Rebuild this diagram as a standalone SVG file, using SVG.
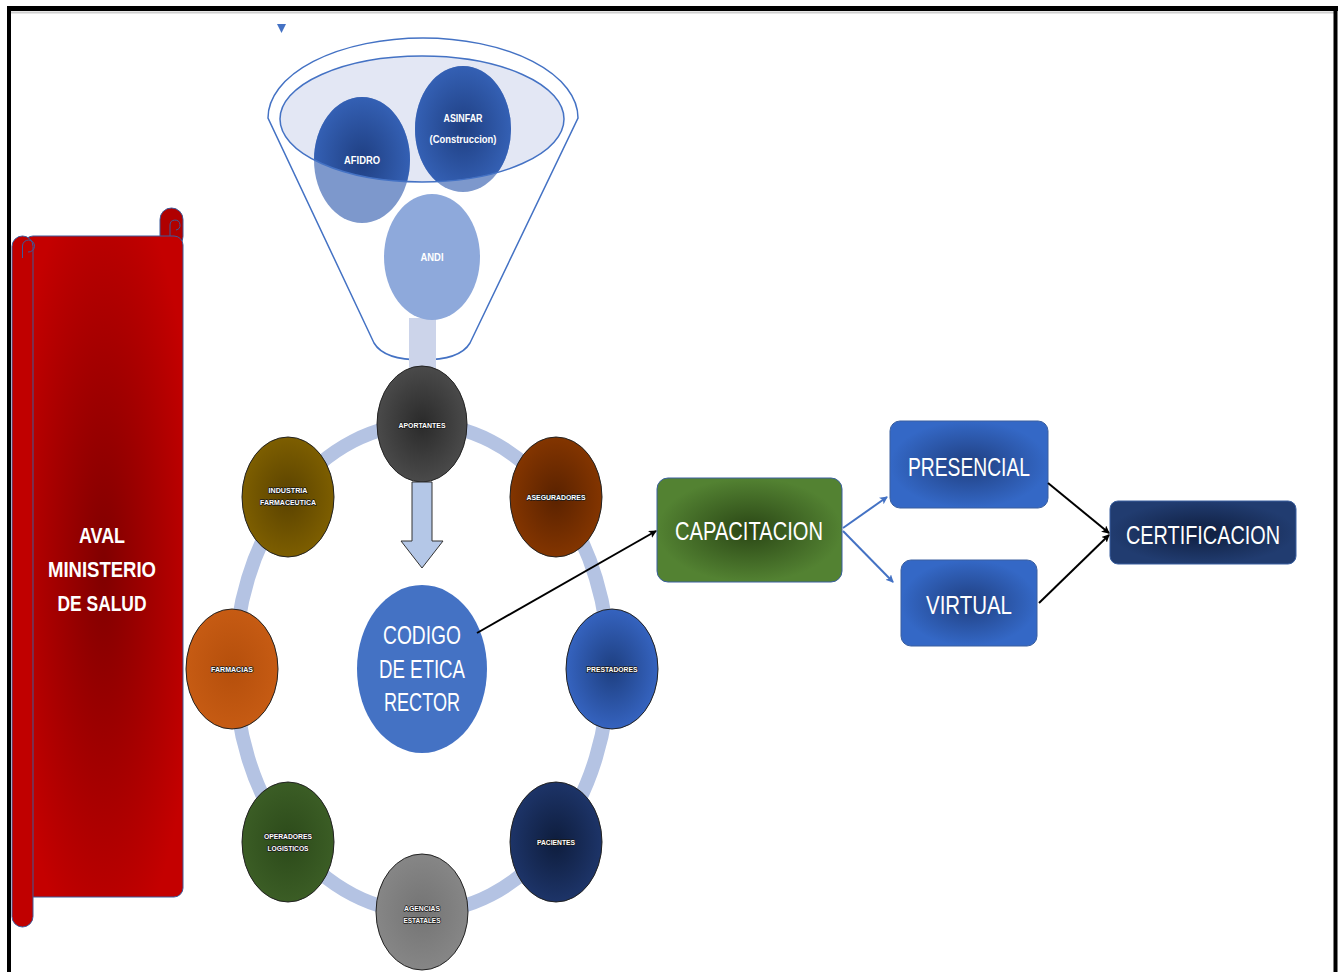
<svg xmlns="http://www.w3.org/2000/svg" width="1344" height="972" viewBox="0 0 1344 972">
<defs>
<style>
.t{font-family:"Liberation Sans",Arial,sans-serif;fill:#fff;text-anchor:middle}
.sm{font-size:8px;font-weight:bold;stroke:#1a1a1a;stroke-width:1.6px;paint-order:stroke fill;stroke-linejoin:round}
.fn{font-size:11px;font-weight:bold}
.bx{font-size:25px}
.nd{stroke:#222;stroke-width:1}
.box{stroke:#3a5f9f;stroke-width:1}
.conn{fill:none;stroke-width:2}
</style>
<radialGradient id="gRed" cx="0.5" cy="0.5" r="0.6"><stop offset="0" stop-color="#800000"/><stop offset="1" stop-color="#C40000"/></radialGradient>
<radialGradient id="gGray" cx="0.5" cy="0.5" r="0.5"><stop offset="0" stop-color="#2a2a2a"/><stop offset="1" stop-color="#4a4a4a"/></radialGradient>
<radialGradient id="gBrown" cx="0.5" cy="0.5" r="0.5"><stop offset="0" stop-color="#5a2200"/><stop offset="1" stop-color="#833500"/></radialGradient>
<radialGradient id="gBlue" cx="0.5" cy="0.5" r="0.5"><stop offset="0" stop-color="#1e3f80"/><stop offset="1" stop-color="#3563bf"/></radialGradient>
<radialGradient id="gNavy" cx="0.5" cy="0.5" r="0.5"><stop offset="0" stop-color="#0e1d3d"/><stop offset="1" stop-color="#1d3468"/></radialGradient>
<radialGradient id="gLgray" cx="0.5" cy="0.5" r="0.5"><stop offset="0" stop-color="#747474"/><stop offset="1" stop-color="#868686"/></radialGradient>
<radialGradient id="gGreenD" cx="0.5" cy="0.5" r="0.5"><stop offset="0" stop-color="#2c4a1a"/><stop offset="1" stop-color="#3b5d25"/></radialGradient>
<radialGradient id="gOrange" cx="0.5" cy="0.5" r="0.5"><stop offset="0" stop-color="#b54f0c"/><stop offset="1" stop-color="#c65b13"/></radialGradient>
<radialGradient id="gOlive" cx="0.5" cy="0.5" r="0.5"><stop offset="0" stop-color="#5a4200"/><stop offset="1" stop-color="#7d5e00"/></radialGradient>
<radialGradient id="gGreen" cx="0.5" cy="0.5" r="0.5"><stop offset="0" stop-color="#2a4615"/><stop offset="1" stop-color="#538232"/></radialGradient>
<radialGradient id="gBox" cx="0.5" cy="0.5" r="0.5"><stop offset="0" stop-color="#203f80"/><stop offset="1" stop-color="#3468c6"/></radialGradient>
<radialGradient id="gCert" cx="0.5" cy="0.5" r="0.5"><stop offset="0" stop-color="#0f1e3f"/><stop offset="1" stop-color="#213c70"/></radialGradient>
<radialGradient id="gFun" cx="0.5" cy="0.5" r="0.5"><stop offset="0" stop-color="#1f3f82"/><stop offset="1" stop-color="#3460b4"/></radialGradient>
<clipPath id="cIn"><ellipse cx="422" cy="119" rx="142" ry="63"/></clipPath>
<marker id="ak" markerWidth="8" markerHeight="8" refX="7" refY="4" orient="auto" markerUnits="userSpaceOnUse"><path d="M0,0 L8,4 L0,8 L2,4 Z" fill="#000"/></marker>
<marker id="ab" markerWidth="8" markerHeight="8" refX="7" refY="4" orient="auto" markerUnits="userSpaceOnUse"><path d="M0,0 L8,4 L0,8 L2,4 Z" fill="#4472C4"/></marker>
</defs>
<rect width="1344" height="972" fill="#fff"/>
<g id="frame">
<line x1="7" y1="12.5" x2="1336" y2="12.5" stroke="#cfcfcf" stroke-width="2"/>
<line x1="7" y1="8.5" x2="1338" y2="8.5" stroke="#000" stroke-width="5"/>
<line x1="9" y1="6" x2="9" y2="972" stroke="#000" stroke-width="4"/>
<line x1="1335.5" y1="6" x2="1335.5" y2="972" stroke="#000" stroke-width="4"/>
</g>
<g id="aval">
<rect x="160" y="208" width="23" height="40" rx="11.5" fill="#B00000" stroke="#3c5a9a" stroke-width="1"/>
<rect x="24" y="236" width="159" height="661" rx="9" fill="url(#gRed)" stroke="#3c5a9a" stroke-width="1"/>
<rect x="12" y="236" width="21" height="691" rx="10.5" fill="#C00000" stroke="#3c5a9a" stroke-width="1"/>
<path d="M22.5,258 L22.5,246 A6,6 0 1 1 28,252" fill="none" stroke="#3c5a9a" stroke-width="1"/>
<path d="M170,236 L170,225 A5,5 0 1 1 176,230" fill="none" stroke="#3c5a9a" stroke-width="1"/>
<text class="t" font-size="22" font-weight="bold" x="102" y="543" textLength="46" lengthAdjust="spacingAndGlyphs">AVAL</text>
<text class="t" font-size="22" font-weight="bold" x="102" y="577" textLength="108" lengthAdjust="spacingAndGlyphs">MINISTERIO</text>
<text class="t" font-size="22" font-weight="bold" x="102" y="611" textLength="89" lengthAdjust="spacingAndGlyphs">DE SALUD</text>
</g>
<g id="funnel">
<path d="M277,24 L286,24 L281.5,33 Z" fill="#4472C4"/>
<path d="M268,118 A155,80 0 0 1 578,118 L470,343 Q460,360 422,360 Q384,360 374,343 Z" fill="#fff" stroke="#4472C4" stroke-width="1.5"/>
<ellipse cx="422" cy="119" rx="142" ry="63" fill="#E3E7F4"/>
<rect x="409" y="318" width="27" height="52" fill="#CCD4EA"/>
</g>
<g id="afidro">
<ellipse cx="362" cy="160" rx="48" ry="63" fill="#7D98CC"/>
<ellipse cx="362" cy="160" rx="48" ry="63" fill="url(#gFun)" clip-path="url(#cIn)"/>
<text class="t fn" x="362" y="164" textLength="36" lengthAdjust="spacingAndGlyphs">AFIDRO</text>
</g>
<g id="asinfar">
<ellipse cx="463" cy="129" rx="48" ry="63" fill="#7D98CC"/>
<ellipse cx="463" cy="129" rx="48" ry="63" fill="url(#gFun)" clip-path="url(#cIn)"/>
<text class="t fn" x="463" y="122" textLength="39" lengthAdjust="spacingAndGlyphs">ASINFAR</text>
<text class="t fn" x="463" y="143" textLength="67" lengthAdjust="spacingAndGlyphs">(Construccion)</text>
</g>
<ellipse cx="422" cy="119" rx="142" ry="63" fill="none" stroke="#4472C4" stroke-width="1.5"/>
<g id="andi">
<ellipse cx="432" cy="257" rx="48" ry="63" fill="#8EA9DB"/>
<text class="t fn" x="432" y="261" textLength="23" lengthAdjust="spacingAndGlyphs">ANDI</text>
</g>
<ellipse id="ring" cx="422" cy="668" rx="187" ry="244" fill="none" stroke="#B4C3E3" stroke-width="14"/>
<g id="aportantes"><ellipse class="nd" cx="422" cy="424" rx="45" ry="58" fill="url(#gGray)"/><text class="t sm" x="422" y="428" textLength="47" lengthAdjust="spacingAndGlyphs">APORTANTES</text></g>
<g id="aseguradores"><ellipse class="nd" cx="556" cy="497" rx="46" ry="60" fill="url(#gBrown)"/><text class="t sm" x="556" y="500" textLength="59" lengthAdjust="spacingAndGlyphs">ASEGURADORES</text></g>
<g id="prestadores"><ellipse class="nd" cx="612" cy="669" rx="46" ry="60" fill="url(#gBlue)"/><text class="t sm" x="612" y="672" textLength="51" lengthAdjust="spacingAndGlyphs">PRESTADORES</text></g>
<g id="pacientes"><ellipse class="nd" cx="556" cy="842" rx="46" ry="60" fill="url(#gNavy)"/><text class="t sm" x="556" y="845" textLength="38" lengthAdjust="spacingAndGlyphs">PACIENTES</text></g>
<g id="agencias"><ellipse class="nd" cx="422" cy="912" rx="46" ry="58" fill="url(#gLgray)"/><text class="t sm" x="422" y="911" textLength="36" lengthAdjust="spacingAndGlyphs">AGENCIAS</text><text class="t sm" x="422" y="923" textLength="37" lengthAdjust="spacingAndGlyphs">ESTATALES</text></g>
<g id="operadores"><ellipse class="nd" cx="288" cy="842" rx="46" ry="60" fill="url(#gGreenD)"/><text class="t sm" x="288" y="839" textLength="48" lengthAdjust="spacingAndGlyphs">OPERADORES</text><text class="t sm" x="288" y="851" textLength="41" lengthAdjust="spacingAndGlyphs">LOGISTICOS</text></g>
<g id="farmacias"><ellipse class="nd" cx="232" cy="669" rx="46" ry="60" fill="url(#gOrange)"/><text class="t sm" x="232" y="672" textLength="42" lengthAdjust="spacingAndGlyphs">FARMACIAS</text></g>
<g id="industria"><ellipse class="nd" cx="288" cy="497" rx="46" ry="60" fill="url(#gOlive)"/><text class="t sm" x="288" y="493" textLength="39" lengthAdjust="spacingAndGlyphs">INDUSTRIA</text><text class="t sm" x="288" y="505" textLength="56" lengthAdjust="spacingAndGlyphs">FARMACEUTICA</text></g>
<g id="flecha-abajo"><path d="M412,482 L432,482 L432,541 L443,541 L422,568 L401,541 L412,541 Z" fill="#B4C7E7" stroke="#333" stroke-width="1"/></g>
<g id="codigo"><ellipse cx="422" cy="669" rx="65" ry="84" fill="#4472C4"/>
<text class="t" font-size="26" x="422" y="644" textLength="78" lengthAdjust="spacingAndGlyphs">CODIGO</text>
<text class="t" font-size="26" x="422" y="678" textLength="86" lengthAdjust="spacingAndGlyphs">DE ETICA</text>
<text class="t" font-size="26" x="422" y="711" textLength="76" lengthAdjust="spacingAndGlyphs">RECTOR</text></g>
<g id="capacitacion"><rect class="box" x="657" y="478" width="185" height="104" rx="11" fill="url(#gGreen)"/><text class="t bx" x="749" y="540" textLength="148" lengthAdjust="spacingAndGlyphs">CAPACITACION</text></g>
<g id="presencial"><rect class="box" x="890" y="421" width="158" height="87" rx="10" fill="url(#gBox)"/><text class="t bx" x="969" y="476" textLength="122" lengthAdjust="spacingAndGlyphs">PRESENCIAL</text></g>
<g id="virtual"><rect class="box" x="901" y="560" width="136" height="86" rx="10" fill="url(#gBox)"/><text class="t bx" x="969" y="614" textLength="86" lengthAdjust="spacingAndGlyphs">VIRTUAL</text></g>
<g id="certificacion"><rect class="box" x="1110" y="501" width="186" height="63" rx="8" fill="url(#gCert)"/><text class="t bx" x="1203" y="544" textLength="154" lengthAdjust="spacingAndGlyphs">CERTIFICACION</text></g>
<g id="connectors">
<line class="conn" x1="477" y1="633" x2="656" y2="531" stroke="#000" marker-end="url(#ak)"/>
<line class="conn" x1="843" y1="528" x2="887" y2="497" stroke="#4472C4" stroke-width="1.5" marker-end="url(#ab)"/>
<line class="conn" x1="843" y1="531" x2="893" y2="582" stroke="#4472C4" stroke-width="1.5" marker-end="url(#ab)"/>
<line class="conn" x1="1048" y1="483" x2="1109" y2="533" stroke="#000" marker-end="url(#ak)"/>
<line class="conn" x1="1039" y1="603" x2="1109" y2="535" stroke="#000" marker-end="url(#ak)"/>
</g>
</svg>
